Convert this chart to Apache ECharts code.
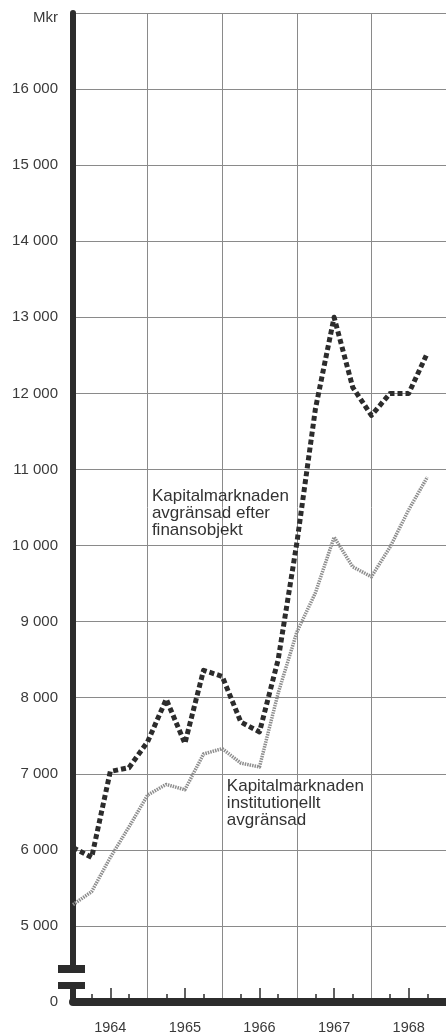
<!DOCTYPE html>
<html>
<head>
<meta charset="utf-8">
<script src="https://cdn.jsdelivr.net/npm/echarts@6/dist/echarts.min.js"></script>
<style>
html,body{margin:0;padding:0;background:#fff;}
#chart{width:446px;height:1035px;}
</style>
</head>
<body>
<div id="chart"></div>
<script>
// Quarter-end positions, from end of 1963 to end of 1968
const quarters = ['1963 IV','1964 I','1964 II','1964 III','1964 IV','1965 I','1965 II','1965 III','1965 IV','1966 I','1966 II','1966 III','1966 IV','1967 I','1967 II','1967 III','1967 IV','1968 I','1968 II','1968 III','1968 IV'];
const yearLabels = ['1964','1965','1966','1967','1968'];
// Mkr
const financeObjects = [6030, 5900, 7030, 7080, 7420, 7980, 7400, 8360, 8280, 7680, 7550, 8500, 10030, 11800, 13000, 12080, 11710, 12000, 12000, 12530, null];
const institutional  = [5280, 5450, 5900, 6300, 6720, 6860, 6790, 7260, 7330, 7140, 7090, 8060, 8860, 9380, 10110, 9720, 9590, 9980, 10470, 10900, null];
const unitLabel = 'Mkr';
const breakValue = 4000;       // axis is broken: this tick is labelled "0"
const yMax = 17000;
const yStep = 1000;
const labelFinance = 'Kapitalmarknaden\navgränsad efter\nfinansobjekt';
const labelInstitutional = 'Kapitalmarknaden\ninstitutionellt\navgränsad';

const FONT = '"Liberation Sans", Arial, sans-serif';
const DARK = '#2c2c2c';
const chart = echarts.init(document.getElementById('chart'), null, {renderer: 'canvas'});

function fmtNum(v) {
  return String(v).replace(/\B(?=(\d{3})+(?!\d))/g, ' ');
}

const option = {
  animation: false,
  backgroundColor: '#fff',
  grid: {left: 73, right: 0, top: 13, bottom: 33, containLabel: false},
  xAxis: [
    {
      type: 'category',
      data: quarters,
      boundaryGap: false,
      position: 'bottom',
      axisLine: {show: true, lineStyle: {color: DARK, width: 8}},
      axisTick: {show: true, inside: true, length: 8, interval: (i) => i % 4 !== 0, lineStyle: {color: DARK, width: 1.5}},
      axisLabel: {
        show: true,
        interval: (i) => i % 4 === 2,
        margin: 18,
        color: '#3a3a3a',
        fontFamily: FONT,
        fontSize: 14.5,
        formatter: (v, i) => (i % 4 === 2 ? yearLabels[(i - 2) / 4] : '')
      },
      splitLine: {show: true, interval: (i) => i % 4 === 0 && i > 0, lineStyle: {color: '#8a8a8a', width: 1}}
    },
    {
      type: 'category',
      data: quarters,
      boundaryGap: false,
      position: 'bottom',
      axisLine: {show: false},
      axisTick: {show: true, inside: true, length: 14, interval: (i) => i % 4 === 2, lineStyle: {color: DARK, width: 1.5}},
      axisLabel: {show: false},
      splitLine: {show: false}
    }
  ],
  yAxis: {
    type: 'value',
    min: breakValue,
    max: yMax,
    interval: yStep,
    axisLine: {show: true, lineStyle: {color: DARK, width: 6}},
    axisTick: {show: false},
    axisLabel: {
      margin: 15,
      color: '#3a3a3a',
      fontFamily: FONT,
      fontSize: 15,
      formatter: (v) => {
        if (v === breakValue) return '0';
        if (v === yMax) return '{u|' + unitLabel + '}';
        return fmtNum(v);
      },
      rich: {u: {fontFamily: FONT, fontSize: 15, color: '#3a3a3a', padding: [10, 0, 0, 0]}}
    },
    splitLine: {show: true, lineStyle: {color: '#8a8a8a', width: 1}}
  },
  series: [
    {
      name: 'institutionellt',
      type: 'line',
      data: institutional,
      symbol: 'none',
      z: 3,
      lineStyle: {color: '#8e8e8e', width: 3.5, type: [1.5, 1], join: 'round'}
    },
    {
      name: 'finansobjekt',
      type: 'line',
      data: financeObjects,
      symbol: 'none',
      z: 4,
      lineStyle: {color: DARK, width: 5, type: [5, 3], cap: 'butt', join: 'round'}
    }
  ]
};
chart.setOption(option);

// Decorations computed from the grid: axis break and annotations
function px(idx, val) {
  const i0 = Math.floor(idx), f = idx - i0;
  const a = chart.convertToPixel({gridIndex: 0}, [i0, val]);
  const b = chart.convertToPixel({gridIndex: 0}, [i0 + 1, val]);
  return [a[0] + (b[0] - a[0]) * f, a[1]];
}
const p0 = px(0, breakValue);
const ax = p0[0], ay = p0[1];
const a1 = px(4.23, 10755);
const a2 = px(8.25, 6944);
chart.setOption({
  graphic: [
    {type: 'rect', shape: {x: ax - 5, y: ay - 29, width: 10, height: 9}, style: {fill: '#fff'}, z: 100},
    {type: 'rect', shape: {x: ax - 15, y: ay - 37, width: 27, height: 8}, style: {fill: DARK}, z: 101},
    {type: 'rect', shape: {x: ax - 15, y: ay - 20, width: 27, height: 7}, style: {fill: DARK}, z: 101},
    {type: 'text', x: a1[0], y: a1[1], z: 102,
      style: {text: labelFinance, fill: '#333', font: '17px ' + FONT, lineHeight: 17, textAlign: 'left', textVerticalAlign: 'top'}},
    {type: 'text', x: a2[0], y: a2[1], z: 102,
      style: {text: labelInstitutional, fill: '#333', font: '17px ' + FONT, lineHeight: 17, textAlign: 'left', textVerticalAlign: 'top'}}
  ]
});
</script>
</body>
</html>
